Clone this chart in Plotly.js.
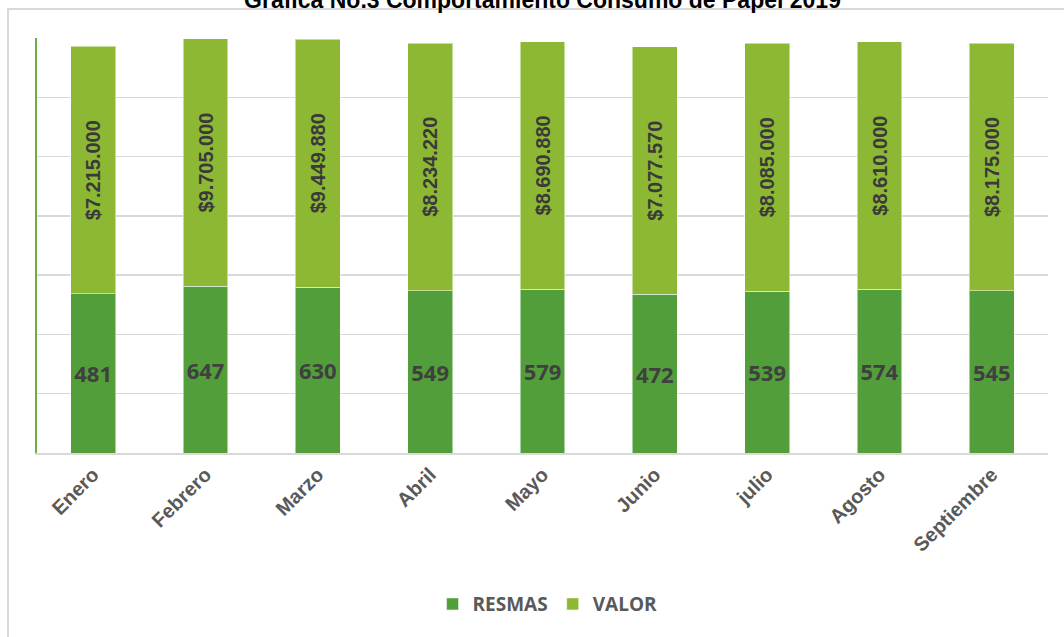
<!DOCTYPE html>
<html>
<head>
<meta charset="utf-8">
<script src="https://cdn.plot.ly/plotly-3.0.1.min.js"></script>
<style>
  html, body { margin: 0; padding: 0; background: #fff; }
  #chart { width: 1064px; height: 637px; }
</style>
</head>
<body>
<div id="chart"></div>
<script>
// datos del gráfico
const meses = ['Enero', 'Febrero', 'Marzo', 'Abril', 'Mayo', 'Junio', 'julio', 'Agosto', 'Septiembre'];
const resmas = [481, 647, 630, 549, 579, 472, 539, 574, 545];
const valor = [7215000, 9705000, 9449880, 8234220, 8690880, 7077570, 8085000, 8610000, 8175000];

const colorResmas = '#529E3A';
const colorValor = '#8DB833';

// formato moneda con puntos de miles
function pesos(v) {
    return '$' + String(v).replace(/\B(?=(\d{3})+(?!\d))/g, '.');
}

const traces = [
    {
        type: 'bar', name: 'RESMAS', x: meses, y: resmas,
        marker: { color: colorResmas, line: { color: 'rgba(255,255,255,0.5)', width: 1 } },
        text: resmas.map(String), textposition: 'inside', insidetextanchor: 'middle',
        textangle: 0,
        textfont: { family: 'Open Sans', size: 22, color: '#404040', weight: 'bold' },
        hoverinfo: 'skip'
    },
    {
        type: 'bar', name: 'VALOR', x: meses, y: valor,
        marker: { color: colorValor, line: { color: 'rgba(255,255,255,0.5)', width: 1 } },
        text: valor.map(pesos), textposition: 'inside', insidetextanchor: 'middle',
        textangle: -90,
        textfont: { family: 'Liberation Sans', size: 20, color: '#3a3a3a', weight: 'bold' },
        hoverinfo: 'skip'
    }
];

// marco del área del gráfico (bordes izquierdo y superior)
const L = 37, R = 16, T = 38, B = 184;
const pw = 1064 - L - R, ph = 637 - T - B;
const fx = (8 - L) / pw, fy = 1 + (T - 9) / ph;

const layout = {
    width: 1064, height: 637,
    margin: { l: L, r: R, t: T, b: B },
    paper_bgcolor: '#fff', plot_bgcolor: '#fff',
    barmode: 'stack', bargap: 0.6,
    title: {
        text: 'Grafica No.3 Comportamiento Consumo de Papel 2019',
        font: { family: 'Liberation Sans', size: 23, color: '#000', weight: 'bold' },
        xref: 'paper', x: 0.5, yref: 'container', y: 1, yanchor: 'middle'
    },
    xaxis: {
        tickangle: -45, ticks: '',
        tickfont: { family: 'Liberation Sans', size: 20, color: '#595959', weight: 'bold' },
        showline: true, linecolor: '#d9d9d9', linewidth: 2,
        showgrid: false
    },
    yaxis: {
        type: 'log', range: [0, 7], dtick: 1,
        showticklabels: false, ticks: '',
        showgrid: true, gridcolor: '#d9d9d9', gridwidth: 1.5,
        showline: true, linecolor: '#70AD47', linewidth: 2
    },
    legend: {
        orientation: 'h', traceorder: 'normal',
        x: 0.505, xanchor: 'center', y: -0.364, yanchor: 'middle',
        font: { family: 'Open Sans', size: 19, color: '#595959', weight: 'bold' },
        itemwidth: 30
    },
    shapes: [{
        type: 'path', xref: 'paper', yref: 'paper',
        path: `M ${fx} -1 L ${fx} ${fy} L 1.2 ${fy}`,
        line: { color: '#d9d9d9', width: 2 }
    }]
};

Plotly.newPlot('chart', traces, layout, { displayModeBar: false, staticPlot: true });
</script>
</body>
</html>
